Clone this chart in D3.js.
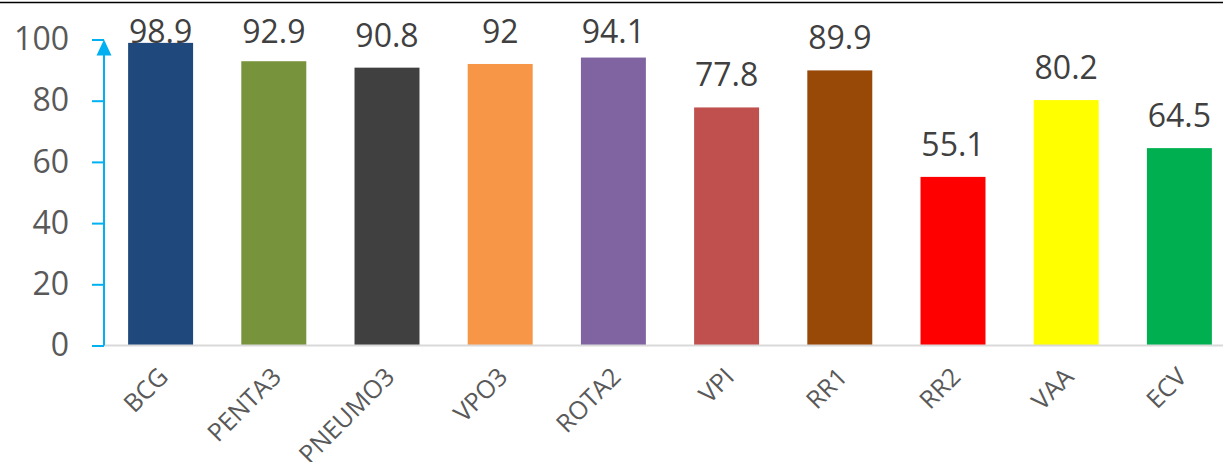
<!DOCTYPE html>
<html>
<head>
<meta charset="utf-8">
<script src="https://cdn.jsdelivr.net/npm/d3@7"></script>
<style>
  html, body { margin: 0; padding: 0; background: #fff; }
  svg { display: block; }
</style>
</head>
<body>
<div id="chart"></div>
<script>
// ---- data -------------------------------------------------------------------
const categories = ['BCG', 'PENTA3', 'PNEUMO3', 'VPO3', 'ROTA2', 'VPI', 'RR1', 'RR2', 'VAA', 'ECV'];
const values     = [98.9, 92.9, 90.8, 92, 94.1, 77.8, 89.9, 55.1, 80.2, 64.5];
const barColors  = ['#1F497D', '#77933C', '#404040', '#F79646', '#8064A2',
                    '#C0504D', '#984807', '#FF0000', '#FFFF00', '#00B050'];
const yTicks     = [0, 20, 40, 60, 80, 100];

// ---- layout -----------------------------------------------------------------
const W = 1223, H = 462;
const font = '"Open Sans", "DejaVu Sans", sans-serif';
const axisBlue = '#00B0F0';

const svg = d3.select('#chart').append('svg')
  .attr('width', W).attr('height', H);

const x = d3.scaleBand().domain(categories).range([104, 1236]).paddingInner(0.426).paddingOuter(0.213);
const y = d3.scaleLinear().domain([0, 100]).range([345.5, 39.5]);

// top border line
svg.append('line')
  .attr('x1', 0).attr('x2', W).attr('y1', 2.5).attr('y2', 2.5)
  .attr('stroke', '#000').attr('stroke-width', 1.5);

// bars
svg.append('g').selectAll('rect').data(categories).join('rect')
  .attr('x', d => x(d))
  .attr('width', x.bandwidth())
  .attr('y', (d, i) => y(values[i]))
  .attr('height', (d, i) => y(0) - y(values[i]))
  .attr('fill', (d, i) => barColors[i]);

// category baseline
svg.append('line')
  .attr('x1', 104).attr('x2', W).attr('y1', y(0)).attr('y2', y(0))
  .attr('stroke', '#D9D9D9').attr('stroke-width', 2);

// value labels (clamped to stay inside the plot area)
svg.append('g').selectAll('text').data(categories).join('text')
  .attr('x', d => x(d) + x.bandwidth() / 2)
  .attr('y', (d, i) => Math.max(y(values[i]) - 21, 43))
  .attr('text-anchor', 'middle')
  .attr('font-family', font).attr('font-size', 32)
  .attr('fill', '#404040')
  .text((d, i) => String(values[i]));

// y axis (blue, with arrow head)
const yAxis = d3.axisLeft(y).tickValues(yTicks).tickSize(12).tickSizeOuter(0).tickPadding(23);
const gy = svg.append('g').attr('transform', 'translate(104,0)').call(yAxis);
gy.select('.domain').remove();
gy.selectAll('.tick line').attr('stroke', axisBlue).attr('stroke-width', 2);
gy.selectAll('.tick text')
  .attr('font-family', font).attr('font-size', 32)
  .attr('fill', '#595959');
gy.append('line')
  .attr('x1', 0).attr('x2', 0).attr('y1', y(0)).attr('y2', y(100) + 14)
  .attr('stroke', axisBlue).attr('stroke-width', 2);
gy.append('path')
  .attr('d', `M0,${y(100)} L7.5,${y(100) + 16} L-7.5,${y(100) + 16} Z`)
  .attr('fill', axisBlue);

// rotated category labels
svg.append('g').selectAll('text').data(categories).join('text')
  .attr('transform', d => `translate(${x(d) + x.bandwidth() / 2 + 9},${y(0) + 33}) rotate(-45)`)
  .attr('text-anchor', 'end')
  .attr('font-family', font).attr('font-size', 25)
  .attr('fill', '#595959')
  .text(d => d);
</script>
</body>
</html>
